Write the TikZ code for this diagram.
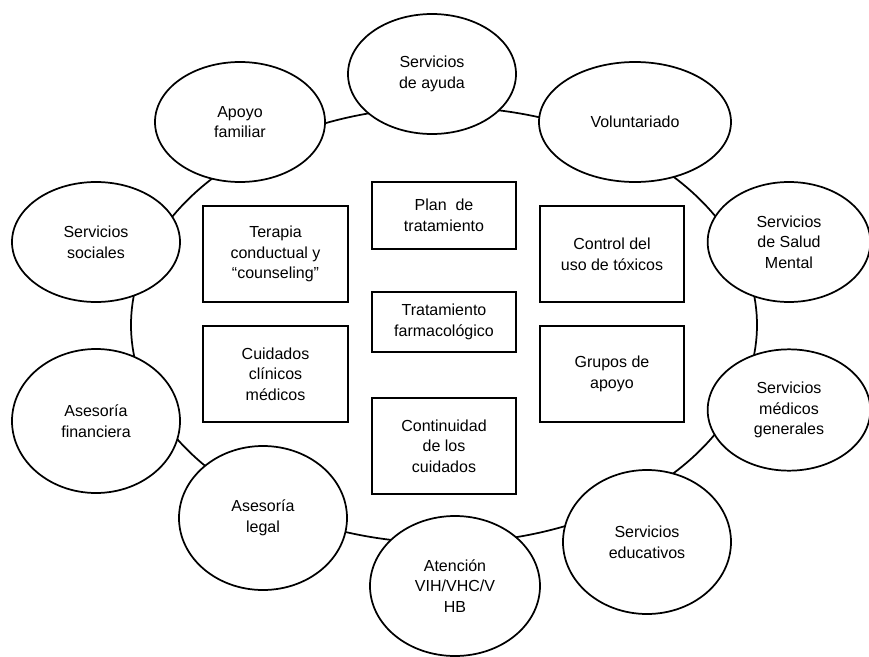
\documentclass[tikz,border=0pt]{standalone}
\usepackage{fontspec}
\setmainfont{Liberation Sans}
\usetikzlibrary{shapes.geometric}

\begin{document}
\begin{tikzpicture}[x=0.75pt,y=-0.75pt]
\tikzstyle{nodo elipse}=[draw,ellipse,line width=1.3pt,fill=white,inner sep=0pt,align=center,font=\fontsize{12pt}{15.5pt}\selectfont]
\tikzstyle{nodo caja}=[draw,rectangle,line width=1.3pt,inner sep=0pt,align=center,minimum width=108.5pt,font=\fontsize{12pt}{15.5pt}\selectfont]

\useasboundingbox (0,0) rectangle (869,657);

% anillo
\coordinate (centro) at (444,325);
\draw[line width=1.3pt] (centro) ellipse [x radius=234.75pt, y radius=163.5pt];

% servicios alrededor
\node[nodo elipse,minimum width=126pt,minimum height=90pt] (ayuda) at (432,74) {Servicios\\de ayuda};
\node[nodo elipse,minimum width=127.5pt,minimum height=90pt] (familiar) at (240,122) {Apoyo\\familiar};
\node[nodo elipse,minimum width=144pt,minimum height=90pt] (voluntariado) at (635,122) {Voluntariado};
\node[nodo elipse,minimum width=126pt,minimum height=90pt] (sociales) at (96,242) {Servicios\\sociales};
\node[nodo elipse,minimum width=122pt,minimum height=90pt] (mental) at (789,242) {Servicios\\de Salud\\Mental};
\node[nodo elipse,minimum width=126pt,minimum height=108pt] (financiera) at (96,421) {Asesoría\\financiera};
\node[nodo elipse,minimum width=122pt,minimum height=91pt] (generales) at (789,410) {Servicios\\médicos\\generales};
\node[nodo elipse,minimum width=126pt,minimum height=108pt] (legal) at (263,518) {Asesoría\\legal};
\node[nodo elipse,minimum width=126pt,minimum height=108pt] (educativos) at (647,542) {Servicios\\educativos};
\node[nodo elipse,minimum width=127.5pt,minimum height=105pt] (vih) at (455,586) {Atención\\VIH/VHC/V\\HB};

% tratamiento en el centro
\node[nodo caja,minimum height=50.25pt] (plan) at (444,215.5) {Plan \ de\\tratamiento};
\node[nodo caja,minimum height=72pt] (terapia) at (275.5,254) {Terapia\\conductual y\\“counseling”};
\node[nodo caja,minimum height=72pt] (control) at (612,254) {Control del\\uso de tóxicos};
\node[nodo caja,minimum height=45pt] (farmaco) at (444,322) {Tratamiento\\farmacológico};
\node[nodo caja,minimum height=72pt] (clinicos) at (275.5,374) {Cuidados\\clínicos\\médicos};
\node[nodo caja,minimum height=72pt] (grupos) at (612,374) {Grupos de\\apoyo};
\node[nodo caja,minimum height=72pt] (continuidad) at (444,446) {Continuidad\\de los\\cuidados};
\end{tikzpicture}
\end{document}
